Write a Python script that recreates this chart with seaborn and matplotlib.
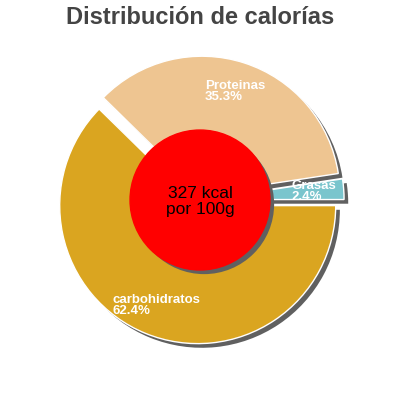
import matplotlib
matplotlib.use("Agg")
import matplotlib.pyplot as plt
import matplotlib.patheffects as pe
import seaborn as sns

# datos
nombres = ['Grasas', 'Proteinas', 'carbohidratos']
porcentajes = [2.4, 35.3, 62.4]
colores = ['#7AC5CD', '#EEC591', '#DAA520']
titulo = 'Distribución de calorías'
texto_centro = '327 kcal\npor 100g'

sns.set_theme(style="white")
plt.rcParams['font.family'] = ['Liberation Sans', 'DejaVu Sans']

fig = plt.figure(figsize=(4, 4), dpi=100)
ax = fig.add_axes([0, 0, 1, 1])

sombra = [pe.SimplePatchShadow(offset=(3, -3), shadow_rgbFace='#606060', alpha=1), pe.Normal()]

etiquetas = [f'{n}\n{p}%' for n, p in zip(nombres, porcentajes)]
wedges, textos = ax.pie(porcentajes, labels=etiquetas, colors=colores,
                        startangle=0, counterclock=True,
                        explode=[0.044] * len(porcentajes),
                        labeldistance=0.783, radius=1,
                        wedgeprops=dict(edgecolor='white', linewidth=1))
for w in wedges:
    w.set_path_effects(sombra)
for t in textos:
    t.set_ha('center')
    t.set_va('center')
    t.set_multialignment('left')
    t.set_color('white')
    t.set_fontsize(9.5)
    t.set_fontweight('bold')
    t.set_linespacing(0.95)

# circulo central
circulo = plt.Circle((0, 0), 0.507, color='#FF0000', zorder=5)
circulo.set_path_effects(sombra)
ax.add_patch(circulo)
ax.text(0, -0.01, texto_centro, ha='center', va='center', fontsize=12.5,
        color='black', linespacing=1.1, zorder=6)

lim = 200 / 138
ax.set_xlim(-lim, lim)
ax.set_ylim(-lim, lim)
ax.set_aspect('equal')
ax.axis('off')

fig.text(0.5, 1 - 24 / 400, titulo, ha='center', va='baseline',
         fontsize=17, fontweight='bold', color='#444444')

fig.savefig('out.png', dpi=100, facecolor='white')
